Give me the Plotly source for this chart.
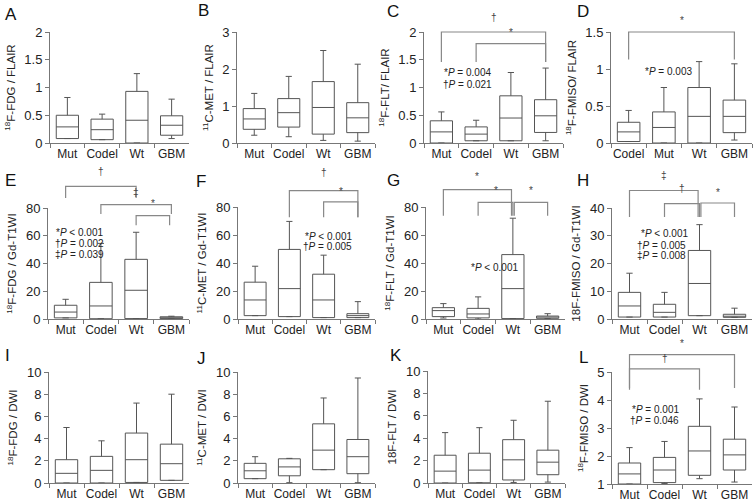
import plotly.graph_objects as go

W, H = 754, 503

cats_std = ["Mut", "Codel", "Wt", "GBM"]
cats_D = ["Codel", "Mut", "Wt", "GBM"]

# ---- data per panel: q1, median, q3, lower fence, upper fence ----
A_q1 = [0.08, 0.06, 0.0, 0.14]; A_med = [0.29, 0.24, 0.41, 0.32]; A_q3 = [0.50, 0.43, 0.93, 0.49]
A_lo = [0.08, 0.06, 0.0, 0.08]; A_hi = [0.82, 0.52, 1.25, 0.79]

B_q1 = [0.37, 0.43, 0.24, 0.28]; B_med = [0.65, 0.82, 0.96, 0.68]; B_q3 = [0.93, 1.20, 1.66, 1.09]
B_lo = [0.21, 0.17, 0.07, 0.05]; B_hi = [1.34, 1.80, 2.50, 2.13]

C_q1 = [0.0, 0.04, 0.04, 0.19]; C_med = [0.20, 0.16, 0.45, 0.49]; C_q3 = [0.40, 0.29, 0.85, 0.78]
C_lo = [0.0, 0.04, 0.04, 0.04]; C_hi = [0.56, 0.41, 1.27, 1.35]

D_q1 = [0.02, 0.0, 0.0, 0.14]; D_med = [0.15, 0.21, 0.36, 0.36]; D_q3 = [0.28, 0.42, 0.75, 0.58]
D_lo = [0.02, 0.0, 0.0, 0.04]; D_hi = [0.44, 0.75, 1.10, 1.07]

E_q1 = [0.8, 0.2, 0.3, 0.3]; E_med = [5.0, 9.4, 20.7, 0.9]; E_q3 = [9.9, 26.4, 43.0, 1.6]
E_lo = [0.8, 0.2, 0.3, 0.2]; E_hi = [14.2, 54.5, 62.5, 2.0]

F_q1 = [2.4, 1.7, 1.0, 1.0]; F_med = [13.6, 21.7, 13.6, 2.4]; F_q3 = [26.3, 49.7, 32.0, 3.8]
F_lo = [2.4, 1.7, 1.0, 1.0]; F_hi = [37.7, 69.7, 45.6, 12.4]

G_q1 = [1.7, 0.8, 0.3, 0.5]; G_med = [6.0, 3.6, 21.7, 1.4]; G_q3 = [8.1, 7.6, 46.0, 2.1]
G_lo = [0.7, 0.0, 0.3, 0.3]; G_hi = [11.0, 15.8, 72.0, 3.8]

H_q1 = [0.7, 0.7, 1.2, 0.6]; H_med = [4.7, 2.4, 12.8, 1.0]; H_q3 = [9.6, 5.3, 24.7, 1.7]
H_lo = [0.7, 0.7, 1.2, 0.6]; H_hi = [16.5, 9.6, 34.0, 3.9]

I_q1 = [0.0, 0.0, 0.05, 0.24]; I_med = [0.87, 1.14, 2.1, 1.74]; I_q3 = [2.1, 2.4, 4.5, 3.5]
I_lo = [0.0, 0.0, 0.05, 0.24]; I_hi = [5.0, 3.8, 7.2, 8.0]

J_q1 = [0.39, 0.65, 1.2, 0.84]; J_med = [1.1, 1.45, 2.96, 2.37]; J_q3 = [1.77, 2.18, 5.33, 3.92]
J_lo = [0.39, 0.03, 1.2, 0.03]; J_hi = [2.37, 2.22, 7.66, 9.46]

K_q1 = [0.0, 0.02, 0.27, 0.74]; K_med = [1.06, 1.15, 2.07, 1.86]; K_q3 = [2.48, 2.66, 3.87, 2.93]
K_lo = [0.0, 0.02, 0.05, 0.08]; K_hi = [4.5, 4.94, 5.6, 7.3]

L_q1 = [1.0, 1.05, 1.31, 1.5]; L_med = [1.36, 1.5, 2.18, 2.04]; L_q3 = [1.75, 1.95, 3.06, 2.6]
L_lo = [1.0, 1.02, 1.19, 1.07]; L_hi = [2.3, 2.52, 4.04, 3.75]

# panel definitions: letter, cats, data, yrange, dtick, ytitle, pixel box (left, top, right, bottom), letter pos
panels = [
    ("A", cats_std, (A_q1, A_med, A_q3, A_lo, A_hi), (0, 2), 0.5, "<sup>18</sup>F-FDG / FLAIR", (50, 32, 189, 143), (3, 14)),
    ("B", cats_std, (B_q1, B_med, B_q3, B_lo, B_hi), (0, 3), 1, "<sup>11</sup>C-MET / FLAIR", (237, 32, 375, 143), (196, 11)),
    ("C", cats_std, (C_q1, C_med, C_q3, C_lo, C_hi), (0, 2), 0.5, "<sup>18</sup>F-FLT/ FLAIR", (424, 32, 563, 143), (385, 12)),
    ("D", cats_D, (D_q1, D_med, D_q3, D_lo, D_hi), (0, 1.5), 0.5, "<sup>18</sup>F-FMISO/ FLAIR", (611, 32, 752, 143), (575, 12)),
    ("E", cats_std, (E_q1, E_med, E_q3, E_lo, E_hi), (0, 80), 20, "<sup>18</sup>F-FDG / Gd-T1WI", (48, 208, 189, 319), (3, 180)),
    ("F", cats_std, (F_q1, F_med, F_q3, F_lo, F_hi), (0, 80), 20, "<sup>11</sup>C-MET / Gd-T1WI", (238, 207, 375, 319), (194, 181)),
    ("G", cats_std, (G_q1, G_med, G_q3, G_lo, G_hi), (0, 80), 20, "<sup>18</sup>F-FLT / Gd-T1WI", (426, 207, 565, 319), (385, 180)),
    ("H", cats_std, (H_q1, H_med, H_q3, H_lo, H_hi), (0, 40), 10, "18F-FMISO / Gd-T1WI", (612, 208, 752, 319), (575, 180)),
    ("I", cats_std, (I_q1, I_med, I_q3, I_lo, I_hi), (0, 10), 2, "<sup>18</sup>F-FDG / DWI", (49, 372, 189, 483), (3, 355)),
    ("J", cats_std, (J_q1, J_med, J_q3, J_lo, J_hi), (0, 10), 2, "<sup>11</sup>C-MET / DWI", (238, 372, 375, 483), (195, 358)),
    ("K", cats_std, (K_q1, K_med, K_q3, K_lo, K_hi), (0, 10), 2, "18F-FLT / DWI", (428, 371, 565, 483), (388, 355)),
    ("L", cats_std, (L_q1, L_med, L_q3, L_lo, L_hi), (1, 5), 1, "<sup>18</sup>F-FMISO / DWI", (612, 372, 752, 484), (577, 357)),
]

# brackets: (x_left_index, x_right_index, bar_y, left_leg_bottom, right_leg_bottom, symbol, symbol_y)
brackets = {
    "C": [(0, 3, 2.0, 1.46, 1.46, "†", 2.12), (1, 3, 1.79, 1.46, 1.46, "*", 1.85)],
    "D": [(0, 3, 1.5, 1.13, 1.13, "*", 1.55)],
    "E": [(0, 2, 95.6, 87.2, 87.2, "†", 101), (1, 3, 82.4, 75.7, 75.7, "‡", 86), (2, 2.95, 74.5, 67.5, 67.5, "*", 77.5)],
    "F": [(1, 3, 91.7, 72.6, 72.6, "†", 99), (2, 3, 83.6, 72.6, 72.6, "*", 86)],
    "G": [(0, 1.96, 92.4, 73.8, 73.8, "*", 96.5), (1, 2.0, 83.3, 73.8, 73.8, "*", 86.5), (2.04, 3, 83.3, 73.8, 73.8, "*", 86.5)],
    "H": [(0, 1.96, 46.3, 36.8, 36.8, "‡", 49), (1, 2.0, 41.6, 36.8, 36.8, "†", 44.5), (2.04, 3, 41.8, 36.8, 36.8, "*", 43)],
    "L": [(0, 3, 5.62, 4.43, 4.43, "*", 5.75), (0, 2, 5.11, 4.37, 4.37, "†", 5.2)],
}

# p-value text: (x_pixel_left, y_pixel_center, text)
ptexts = {
    "C": [(442, 73, "*<i>P</i> = 0.004"), (441, 84, "†<i>P</i> = 0.021")],
    "D": [(643, 71, "*<i>P</i> = 0.003")],
    "E": [(54, 232, "*<i>P</i> &lt; 0.001"), (53, 243, "†<i>P</i> = 0.002"), (53, 254, "‡<i>P</i> = 0.039")],
    "F": [(303, 236, "*<i>P</i> &lt; 0.001"), (301, 247, "†<i>P</i> = 0.005")],
    "G": [(469, 267, "*<i>P</i> &lt; 0.001")],
    "H": [(639, 233, "*<i>P</i> &lt; 0.001"), (635, 245, "†<i>P</i> = 0.005"), (635, 256, "‡<i>P</i> = 0.008")],
    "L": [(630, 409, "*<i>P</i> = 0.001"), (628, 420, "†<i>P</i> = 0.046")],
}

FONT = "Liberation Sans, Arial, sans-serif"
TXT = "#222"
AXC = "#777"
BOXC = "#555"
BRC = "#888"

fig = go.Figure()
shapes = []
annotations = []

for i, (letter, cats, stats, yr, dtick, ytitle, box, lpos) in enumerate(panels):
    n = i + 1
    xa = "x" if n == 1 else f"x{n}"
    ya = "y" if n == 1 else f"y{n}"
    q1, med, q3, lo, hi = stats
    fig.add_trace(go.Box(
        x=cats, q1=q1, median=med, q3=q3, lowerfence=lo, upperfence=hi,
        xaxis=xa, yaxis=ya, boxpoints=False, width=0.64, whiskerwidth=0.28,
        fillcolor="white", line=dict(color=BOXC, width=1), showlegend=False,
        hoverinfo="skip",
    ))
    l, t, r, b = box
    xdom = [l / W, r / W]
    ydom = [1 - b / H, 1 - t / H]
    xkey = "xaxis" if n == 1 else f"xaxis{n}"
    ykey = "yaxis" if n == 1 else f"yaxis{n}"
    fig.update_layout(**{
        xkey: dict(domain=xdom, anchor=ya, type="category", categoryorder="array",
                   categoryarray=cats, range=[-0.5, 3.5], showline=True, linecolor=AXC,
                   linewidth=1, ticks="outside", tickson="boundaries", ticklen=4,
                   tickcolor=AXC, showgrid=False, zeroline=False, tickangle=0,
                   automargin=False, fixedrange=True,
                   tickfont=dict(family=FONT, size=12, color=TXT)),
        ykey: dict(domain=ydom, anchor=xa, range=list(yr), dtick=dtick, tick0=yr[0],
                   showline=True, linecolor=AXC, linewidth=1, ticks="outside", ticklen=4,
                   tickcolor=AXC, showgrid=False, zeroline=False,
                   automargin=False, fixedrange=True,
                   tickfont=dict(family=FONT, size=13, color=TXT),
                   title=dict(text=ytitle, font=dict(family=FONT, size=11.5, color=TXT), standoff=6)),
    })
    # panel letter
    annotations.append(dict(text=letter, xref="paper", yref="paper",
                            x=lpos[0] / W, y=1 - lpos[1] / H, xanchor="left", yanchor="middle",
                            showarrow=False, font=dict(family=FONT, size=17, color="#111")))
    xd = xa + " domain"
    yd = ya + " domain"
    y0, y1 = yr

    def fy(v):
        return (v - y0) / (y1 - y0)

    def fx(k):
        return (k + 0.5) / 4

    for (a, c, ybar, la, lb, sym, sy) in brackets.get(letter, []):
        pts = f"M {fx(a)} {fy(la)} L {fx(a)} {fy(ybar)} L {fx(c)} {fy(ybar)} L {fx(c)} {fy(lb)}"
        shapes.append(dict(type="path", path=pts, xref=xd, yref=yd,
                           line=dict(color=BRC, width=1.2)))
        annotations.append(dict(text=sym, xref=xd, yref=yd, x=(fx(a) + fx(c)) / 2, y=fy(sy),
                                showarrow=False, yanchor="bottom", xanchor="center",
                                font=dict(family=FONT, size=10, color="#444")))
    for (px, py, txt) in ptexts.get(letter, []):
        annotations.append(dict(text=txt, xref="paper", yref="paper", x=px / W, y=1 - py / H,
                                xanchor="left", yanchor="middle", showarrow=False,
                                font=dict(family=FONT, size=10, color=TXT)))

fig.update_layout(
    width=W, height=H, margin=dict(l=0, r=0, t=0, b=0, autoexpand=False),
    paper_bgcolor="white", plot_bgcolor="white",
    shapes=shapes, annotations=annotations,
)

fig.write_html("out.html", config={"displayModeBar": False, "staticPlot": True},
               post_script="document.body.style.margin='0';document.body.style.overflow='hidden';")
